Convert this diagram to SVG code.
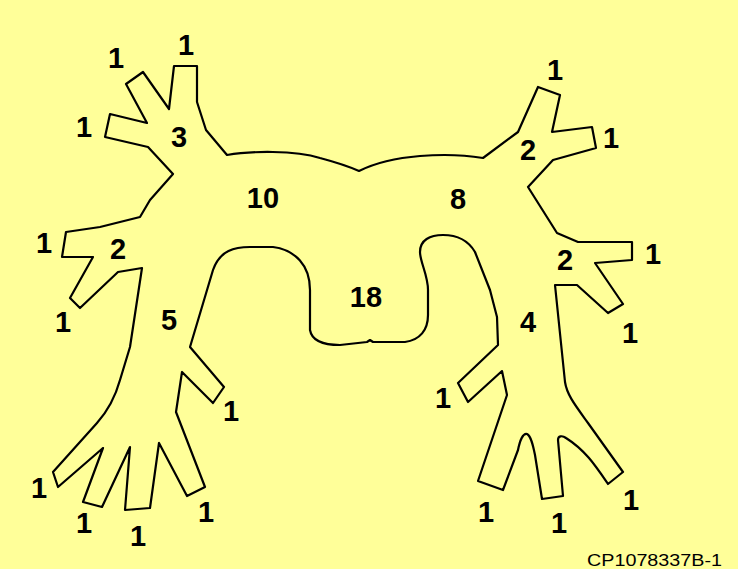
<svg xmlns="http://www.w3.org/2000/svg" width="738" height="569" viewBox="0 0 738 569">
  <style>
    .outline { fill: none; stroke: #000; stroke-width: 2.2; stroke-linejoin: round; }
    .lbl { font-family: "Liberation Sans", Arial, sans-serif; font-weight: bold; font-size: 29px; fill: #000; text-anchor: middle; }
    .code { font-family: "Liberation Sans", Arial, sans-serif; font-size: 17px; fill: #000; }
  </style>
  <rect x="0" y="0" width="738" height="569" fill="#FFFF99"/>

  <!-- branching outline -->
  <path id="tree" class="outline" d="M174,66 L197,66 L197,102 L206,130 L227,155 C250,151 295,150 320,158 C335,162 350,167 359,171 C375,163 395,158 420,156 C445,154 465,155 483,158 L518,132 L538,87 L560,95 L552,132 L592,127 L596,148 L553,160 L528,187 L557,233 L578,242 L632,242 L632,260 L595,263 L623,304 L608,313 L577,285 L555,285 L565,382 C567,395 575,405 588,423 L623,472 L608,484 C595,465 585,450 566,438 C562,435 558,436 558,440 L563,496 L542,499 L535,455 C533,445 531,436 527,434 C523,433 520,440 518,450 L503,490 L478,481 L507,395 L502,371 L468,402 L458,383 L498,345 L497,317 L490,290 L475,252 C468,240 458,235 443,235 C430,235 420,240 420,252 C420,262 428,275 428,290 L428,315 C428,330 420,340 405,342 L373,342 L370,340 L367,342 L340,345 C325,345 312,342 310,330 L310,290 C310,265 295,250 273,247 L250,247 C235,247 220,250 213,270 L190,347 L224,387 L213,403 L182,372 L176,412 L205,487 L187,496 L159,443 L150,508 L125,510 L130,447 L102,507 L83,502 L103,448 L58,487 L53,472 L97,423 C105,414 115,398 120,380 L130,347 L142,268 L118,272 L80,308 L70,298 L93,257 L62,257 L66,232 L100,227 L140,217 L150,200 L173,174 L148,147 L105,137 L110,114 L147,123 L126,84 L143,72 L169,109 Z"/>

  <!-- segment counts -->
  <g id="labels">
    <text class="lbl" x="186" y="55">1</text>
    <text class="lbl" x="116" y="68">1</text>
    <text class="lbl" x="84" y="137">1</text>
    <text class="lbl" x="179" y="147">3</text>
    <text class="lbl" x="263" y="208">10</text>
    <text class="lbl" x="458" y="209">8</text>
    <text class="lbl" x="366" y="307">18</text>
    <text class="lbl" x="555" y="80">1</text>
    <text class="lbl" x="611" y="148">1</text>
    <text class="lbl" x="528" y="160">2</text>
    <text class="lbl" x="44" y="253">1</text>
    <text class="lbl" x="118" y="259">2</text>
    <text class="lbl" x="63" y="332">1</text>
    <text class="lbl" x="169" y="330">5</text>
    <text class="lbl" x="565" y="270">2</text>
    <text class="lbl" x="653" y="264">1</text>
    <text class="lbl" x="630" y="343">1</text>
    <text class="lbl" x="528" y="332">4</text>
    <text class="lbl" x="231" y="421">1</text>
    <text class="lbl" x="39" y="498">1</text>
    <text class="lbl" x="84" y="533">1</text>
    <text class="lbl" x="138" y="546">1</text>
    <text class="lbl" x="206" y="522">1</text>
    <text class="lbl" x="443" y="408">1</text>
    <text class="lbl" x="486" y="522">1</text>
    <text class="lbl" x="559" y="533">1</text>
    <text class="lbl" x="631" y="510">1</text>
  </g>

  <text class="code" x="587" y="566" textLength="135" lengthAdjust="spacingAndGlyphs">CP1078337B-1</text>
</svg>
